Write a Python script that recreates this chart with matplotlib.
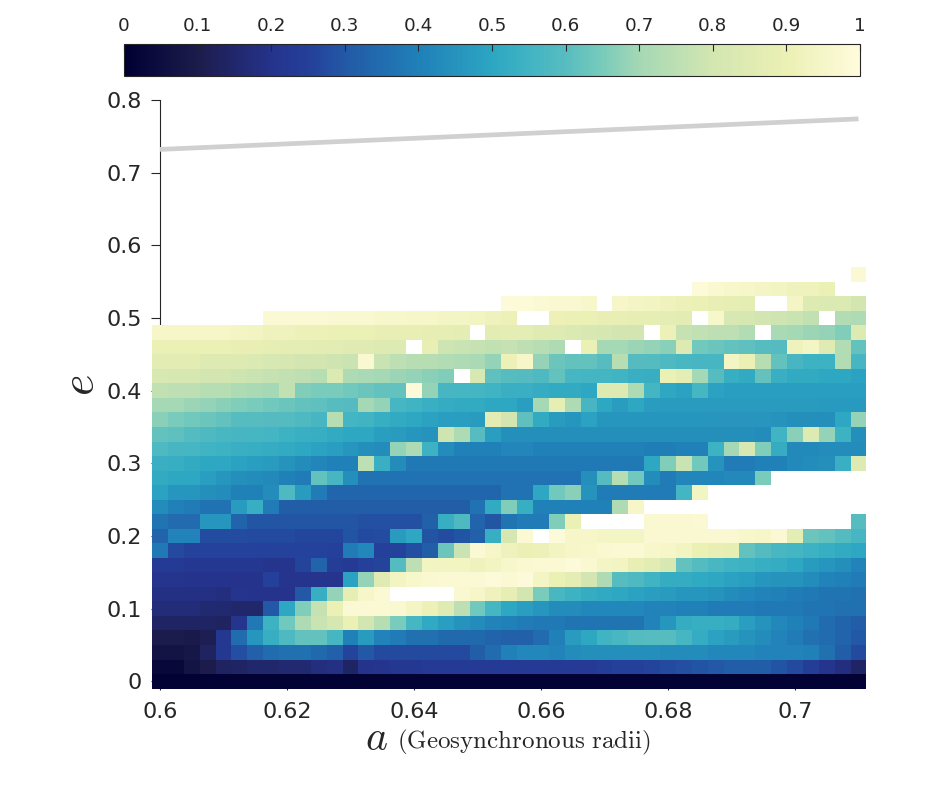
import numpy as np
import matplotlib
matplotlib.use('Agg')
import matplotlib.pyplot as plt
from matplotlib.colors import LinearSegmentedColormap

n = np.nan
W, H = 950, 797

a = [0.6 + 0.0025 * i for i in range(45)]
e = [0.02 * i for i in range(29)]
a_ticks = [0.6, 0.62, 0.64, 0.66, 0.68, 0.7]
e_ticks = [0, 0.1, 0.2, 0.3, 0.4, 0.5, 0.6, 0.7, 0.8]
cbar_ticks = [0, 0.1, 0.2, 0.3, 0.4, 0.5, 0.6, 0.7, 0.8, 0.9, 1]

# grey curve at the top
limit_a = [0.6, 0.71]
limit_e = [0.732, 0.774]

# one list per row, from e=0 up
e00 = [.01] * 45
e02 = [.03,.03,.07,.10,.13,.14,.15,.15,.16,.16,.18,.19,.14,.20,.21,.22,.22,.23,.23,.23,.23,.23,.23,.23,.23,.23,.23,.23,.24,.25,.25,.26,.27,.28,.29,.30,.31,.31,.31,.29,.27,.24,.21,.18,.14]
e04 = [.07,.07,.08,.13,.22,.28,.32,.35,.36,.36,.34,.32,.26,.30,.27,.27,.27,.27,.27,.27,.31,.35,.40,.42,.42,.41,.43,.44,.44,.44,.44,.44,.43,.43,.43,.42,.42,.42,.41,.41,.41,.40,.36,.31,.27]
e06 = [.10,.10,.09,.11,.22,.35,.46,.53,.58,.62,.62,.56,.40,.47,.41,.39,.36,.36,.34,.34,.34,.33,.32,.32,.35,.40,.47,.50,.55,.57,.59,.60,.60,.56,.52,.49,.47,.45,.43,.41,.39,.36,.35,.33,.30]
e08 = [.14,.14,.14,.14,.13,.21,.38,.54,.64,.72,.78,.81,.90,.80,.74,.65,.56,.51,.48,.45,.43,.41,.40,.39,.38,.38,.37,.37,.37,.37,.37,.41,.46,.52,.53,.53,.52,.48,.45,.42,.40,.38,.35,.33,.31]
e10 = [.17,.17,.17,.16,.16,.15,.15,.30,.50,.66,.77,.90,.98,.98,.98,.97,.94,.91,.85,.75,.64,.56,.50,.48,.46,.43,.43,.42,.42,.42,.42,.41,.41,.40,.40,.39,.39,.39,.38,.38,.38,.37,.37,.36,.36]
e12 = [.19,.19,.19,.19,.18,.21,.20,.20,.20,.30,.53,.68,.88,.95,.98,n,n,n,n,.97,.95,.92,.88,.80,.65,.57,.54,.52,.51,.50,.49,.48,.47,.46,.46,.45,.43,.42,.41,.40,.39,.38,.37,.37,.36]
e14 = [.21,.21,.20,.20,.20,.20,.20,.25,.21,.21,.21,.21,.49,.68,.85,.93,.96,.97,.98,.98,.98,.99,.98,.99,.94,.90,.87,.80,.72,.60,.58,.55,.52,.52,.51,.50,.49,.48,.46,.45,.45,.43,.41,.40,.39]
e16 = [.23,.23,.22,.22,.22,.22,.22,.21,.21,.26,.33,.24,.23,.25,.26,.59,.75,.93,.93,.93,.92,.93,.96,.97,.98,.98,.99,.97,.94,.93,.89,.86,.82,.62,.59,.57,.55,.54,.53,.52,.50,.47,.46,.44,.41]
e18 = [.38,.27,.255,.255,.255,.255,.255,.255,.255,.255,.255,.25,.39,.42,.25,.255,.28,.31,.63,.78,.98,.95,.92,.90,.91,.93,.95,.96,.97,.98,.98,.96,.95,.93,.90,.89,.88,.62,.59,.57,.555,.54,.53,.515,.50]
e20 = [.33,.41,.41,.275,.275,.275,.27,.27,.27,.265,.265,.265,.29,.27,.275,.47,.50,.29,.275,.29,.32,.53,.81,.98,n,.99,.95,.95,.94,.94,.94,.97,.97,.97,.97,.97,.97,.96,.95,.98,.87,.63,.62,.59,.565]
e22 = [.37,.345,.345,.46,.46,.33,.295,.295,.295,.295,.295,.295,.295,.285,.285,.285,.285,.32,.53,.58,.33,.295,.37,.39,.39,.66,.90,n,n,n,n,.97,.97,.97,.98,n,n,n,n,n,n,n,n,n,.60]
e24 = [.43,.40,.39,.365,.365,.47,.53,.39,.31,.31,.31,.31,.31,.31,.31,.31,.31,.31,.31,.31,.365,.515,.66,.53,.40,.40,.40,.40,.40,.72,.95,n,n,n,n,n,n,n,n,n,n,n,n,n,n]
e26 = [.49,.46,.46,.44,.43,.405,.40,.43,.58,.47,.39,.335,.335,.335,.335,.335,.335,.335,.335,.335,.335,.335,.365,.365,.50,.64,.67,.45,.39,.39,.39,.39,.39,.555,.93,n,n,n,n,n,n,n,n,n,n]
e28 = [.515,.505,.50,.48,.46,.44,.43,.425,.405,.39,.62,.565,.44,.365,.365,.365,.365,.365,.365,.365,.365,.365,.365,.365,.365,.365,.365,.44,.595,.74,.64,.43,.39,.415,.415,.415,.425,.425,.65,n,n,n,n,n,n]
e30 = [.535,.53,.515,.505,.505,.49,.48,.47,.45,.43,.415,.405,.40,.75,.535,.43,.38,.38,.38,.38,.38,.38,.38,.38,.38,.38,.38,.38,.38,.38,.38,.505,.66,.78,.64,.45,.39,.39,.40,.405,.425,.43,.44,.535,.84]
e32 = [.58,.565,.56,.55,.54,.535,.53,.52,.515,.50,.49,.48,.46,.44,.43,.68,.72,.54,.43,.405,.405,.40,.415,.415,.40,.40,.40,.40,.40,.40,.40,.395,.395,.405,.405,.54,.70,.82,.66,.52,.425,.425,.43,.43,.43]
e34 = [.62,.61,.59,.58,.57,.565,.56,.555,.54,.535,.53,.515,.505,.50,.48,.47,.46,.45,.79,.72,.60,.48,.44,.44,.44,.44,.44,.44,.44,.44,.44,.44,.44,.44,.44,.44,.44,.44,.43,.55,.67,.84,.68,.54,.44]
e36 = [.67,.65,.64,.63,.62,.60,.60,.595,.59,.58,.565,.74,.555,.55,.53,.515,.50,.49,.48,.48,.47,.86,.80,.61,.515,.47,.46,.49,.46,.46,.46,.46,.46,.46,.46,.455,.455,.455,.455,.45,.44,.44,.44,.505,.68]
e38 = [.70,.70,.69,.68,.67,.66,.65,.64,.63,.62,.61,.60,.595,.70,.68,.56,.55,.535,.52,.515,.515,.50,.50,.48,.70,.88,.72,.565,.505,.475,.505,.475,.47,.47,.47,.47,.47,.47,.47,.47,.47,.47,.465,.465,.465]
e40 = [.76,.75,.75,.74,.74,.72,.71,.70,.76,.66,.65,.65,.64,.63,.62,.62,.99,.68,.565,.56,.555,.55,.535,.535,.52,.515,.515,.505,.84,.84,.72,.555,.505,.49,.56,.49,.48,.48,.48,.48,.48,.48,.48,.48,.48]
e42 = [.82,.81,.81,.80,.80,.79,.78,.77,.76,.75,.74,.83,.72,.71,.70,.69,.68,.67,.66,n,.82,.61,.60,.595,.58,.62,.56,.555,.555,.55,.535,.53,.90,.87,.70,.60,.53,.515,.62,.535,.515,.515,.505,.50,.49]
e44 = [.86,.86,.86,.84,.84,.84,.83,.82,.81,.80,.80,.79,.78,.97,.78,.75,.74,.74,.73,.72,.71,.68,.91,.95,.68,.63,.62,.62,.60,.74,.595,.59,.58,.57,.565,.56,.94,.90,.74,.62,.565,.54,.54,.73,.565]
e46 = [.90,.90,.90,.90,.90,.89,.89,.88,.87,.87,.86,.86,.85,.85,.84,.84,n,.89,.79,.78,.77,.76,.77,.75,.74,.72,n,.90,.70,.70,.69,.68,.67,.84,.64,.63,.62,.61,.60,.595,.92,.94,.85,.73,.62]
e48 = [.95,.95,.95,.95,.95,.94,.93,.92,.92,.91,.91,.90,.90,.90,.89,.89,.89,.88,.88,.87,n,.86,.87,.87,.85,.85,.83,.82,.81,.80,.80,n,.91,.77,.76,.75,.75,.73,n,.71,.70,.69,.68,.66,.84]
e50 = [n,n,n,n,n,n,n,.98,.98,.98,.98,.975,.97,.97,.96,.96,.95,.95,.94,.94,.93,.92,.91,n,n,.91,.90,.90,.89,.89,.88,.88,.87,.86,n,.96,.82,.81,.80,.79,.78,.76,n,.73,.72]
e52 = [n]*22 + [.99,.985,.98,.97,.97,.96,n,.95,.94,.93,.92,.91,.90,.89,.88,.87,n,n,.94,.84,.83,.83,.80]
e54 = [n]*34 + [.99,.97,.96,.95,.94,.93,.92,.92,.90,n,n]
e56 = [n]*44 + [.98]

# colours picked off the colour bar
cmap_values = [0, .1, .2, .25, .3, .4, .5, .55, .6, .65, .7, .8, .9, 1]
cmap_colors = ['#000033', '#1c1c4c', '#25338c', '#24409a', '#2259a6', '#2080b8', '#2ca6c2',
               '#41b4c3', '#57bcc0', '#78cbbb', '#a4d8b5', '#d3e6b1', '#ebf0b4', '#fffbdc']
cmap = LinearSegmentedColormap.from_list('ylgnbu', list(zip(cmap_values, cmap_colors)), N=256)

plt.rcParams['font.family'] = ['DejaVu Sans']
plt.rcParams['mathtext.fontset'] = 'cm'
text_col = '#262626'

grid = np.array([e00, e02, e04, e06, e08, e10, e12, e14, e16, e18, e20, e22, e24, e26, e28,
                 e30, e32, e34, e36, e38, e40, e42, e44, e46, e48, e50, e52, e54, e56])

fig = plt.figure(figsize=(W / 100, H / 100), dpi=100)

def box(x0, y0, x1, y1):
    return [x0 / W, 1 - y1 / H, (x1 - x0) / W, (y1 - y0) / H]

ax = fig.add_axes(box(160, 100, 858.5, 681.3))
a_edges = np.array(a + [a[-1] + 0.0025]) - 0.00125
e_edges = np.array(e + [e[-1] + 0.02]) - 0.01
mesh = ax.pcolormesh(a_edges, e_edges, np.ma.masked_invalid(grid), cmap=cmap, vmin=0, vmax=1,
                     zorder=3, clip_on=False)
ax.plot(limit_a, limit_e, color='#d0d0d0', lw=3.4, zorder=4, solid_capstyle='butt')
ax.set_xlim(0.6, 0.71)
ax.set_ylim(0, 0.8)
ax.set_xticks(a_ticks)
ax.set_xticklabels(['0.6', '0.62', '0.64', '0.66', '0.68', '0.7'])
ax.set_yticks(e_ticks)
ax.set_yticklabels(['0', '0.1', '0.2', '0.3', '0.4', '0.5', '0.6', '0.7', '0.8'])
ax.tick_params(axis='both', direction='out', length=6.5, width=0.8, labelsize=16,
               colors=text_col)
ax.tick_params(axis='y', pad=6.5)
ax.tick_params(axis='x', pad=8.5)
for side in ['top', 'right']:
    ax.spines[side].set_visible(False)
for side in ['left', 'bottom']:
    ax.spines[side].set_color(text_col)
    ax.spines[side].set_linewidth(0.8)

fig.text(376 / W, 1 - 738 / H, r'$a$', fontsize=30, color=text_col, ha='center', va='center')
fig.text(524 / W, 1 - 742 / H, r'$\mathrm{(Geosynchronous\ radii)}$', fontsize=18, color=text_col,
         ha='center', va='center')
fig.text(81 / W, 1 - 385 / H, r'$e$', fontsize=33, color=text_col, rotation=90,
         ha='center', va='center')

cax = fig.add_axes(box(124, 44, 860, 76))
cb = fig.colorbar(mesh, cax=cax, orientation='horizontal')
cb.set_ticks(cbar_ticks)
cb.set_ticklabels(['0', '0.1', '0.2', '0.3', '0.4', '0.5', '0.6', '0.7', '0.8', '0.9', '1'])
cax.xaxis.set_ticks_position('top')
cax.tick_params(axis='x', direction='in', length=5, width=0.8, labelsize=13.2, colors=text_col, pad=6.5)
cb.outline.set_edgecolor(text_col)
cb.outline.set_linewidth(0.8)

fig.savefig('out.png', dpi=100)
